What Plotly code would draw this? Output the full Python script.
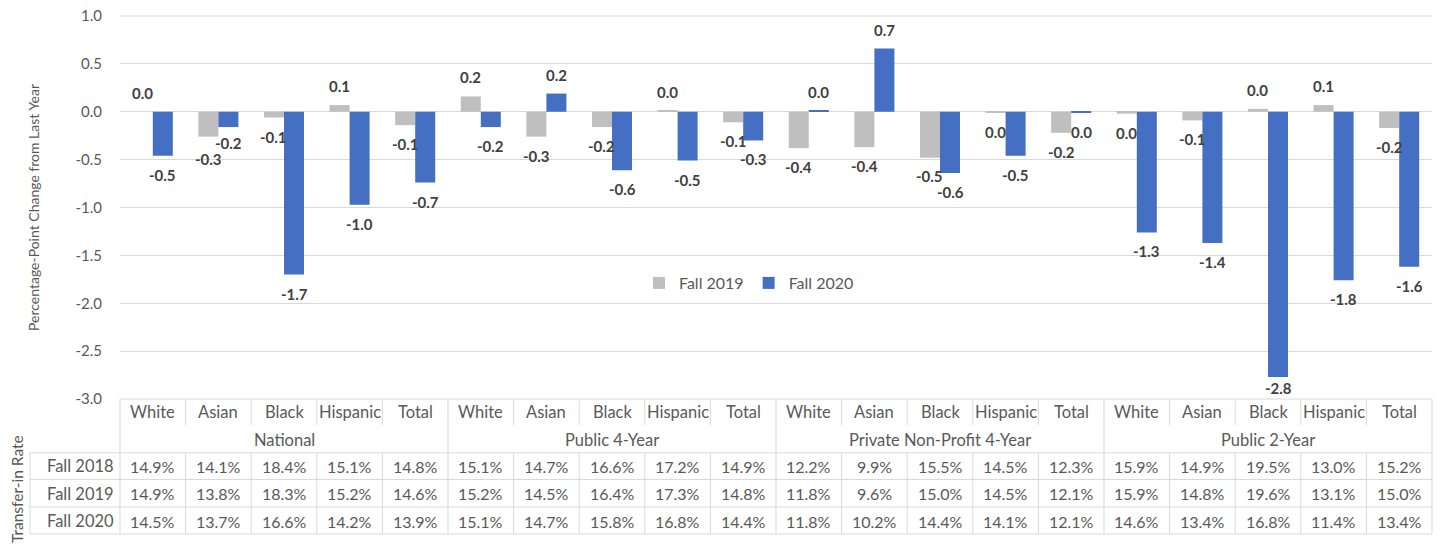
import plotly.graph_objects as go

# ---------------- data ----------------
groups = ["National", "Public 4-Year", "Private Non-Profit 4-Year", "Public 2-Year"]
races = ["White", "Asian", "Black", "Hispanic", "Total"]

# percentage-point change from last year
chg_fall2019 = [0.0, -0.26, -0.06, 0.07, -0.14,
                0.16, -0.26, -0.16, 0.01, -0.11,
                -0.38, -0.37, -0.48, -0.01, -0.22,
                -0.02, -0.09, 0.03, 0.07, -0.17]
chg_fall2020 = [-0.46, -0.16, -1.70, -0.97, -0.74,
                -0.16, 0.19, -0.61, -0.51, -0.30,
                0.01, 0.66, -0.64, -0.46, -0.01,
                -1.26, -1.37, -2.77, -1.76, -1.62]

# transfer-in rates (table)
rate_fall2018 = [14.9, 14.1, 18.4, 15.1, 14.8, 15.1, 14.7, 16.6, 17.2, 14.9,
                 12.2, 9.9, 15.5, 14.5, 12.3, 15.9, 14.9, 19.5, 13.0, 15.2]
rate_fall2019 = [14.9, 13.8, 18.3, 15.2, 14.6, 15.2, 14.5, 16.4, 17.3, 14.8,
                 11.8, 9.6, 15.0, 14.5, 12.1, 15.9, 14.8, 19.6, 13.1, 15.0]
rate_fall2020 = [14.5, 13.7, 16.6, 14.2, 13.9, 15.1, 14.7, 15.8, 16.8, 14.4,
                 11.8, 10.2, 14.4, 14.1, 12.1, 14.6, 13.4, 16.8, 11.4, 13.4]
row_labels = ["Fall 2018", "Fall 2019", "Fall 2020"]

y_tickvals = [1.0, 0.5, 0.0, -0.5, -1.0, -1.5, -2.0, -2.5, -3.0]
y_ticktext = ["1.0", "0.5", "0.0", "-0.5", "-1.0", "-1.5", "-2.0", "-2.5", "-3.0"]

# ---------------- layout constants ----------------
OFF = 8                      # page body margin of the html page
PAGE_W, PAGE_H = 1442, 545
W, H = PAGE_W - OFF, PAGE_H - OFF
PLOT_L, PLOT_R, PLOT_T, PLOT_B = 120, 1432, 16, 399   # page pixels
ML, MT = PLOT_L - OFF, PLOT_T - OFF
MR = W - (PLOT_R - OFF)
MB = H - (PLOT_B - OFF)
PW = PLOT_R - PLOT_L
PH = PLOT_B - PLOT_T
YMIN, YMAX = -3.0, 1.0
GRAY_TXT = "#595959"
LINE = "#d9d9d9"
FONT = "Lato"
BARGAP = 0.39


def py(page_y):
    """page pixel y -> paper y"""
    return (PLOT_B - page_y) / PH


def px_x(page_x):
    return (page_x - PLOT_L) / PW


n = len(groups) * len(races)
idx = list(range(n))
cat_race = [races[i % 5] for i in idx]

fig = go.Figure()
fig.add_bar(x=idx, y=chg_fall2019, name="Fall 2019", marker_color="#bfbfbf",
            marker_line_width=0)
fig.add_bar(x=idx, y=chg_fall2020, name="Fall 2020", marker_color="#456fc2",
            marker_line_width=0)

ann = []
# data labels (outside end, nudged apart when they would collide)
bar_w_px = PW / n * (1 - BARGAP) / 2
px_per_unit = PH / (YMAX - YMIN)
LAB_OFF = 19
MIN_SEP = 16
for i in idx:
    shifts = []
    for v in (chg_fall2019[i], chg_fall2020[i]):
        ys = -LAB_OFF if v < 0 else LAB_OFF
        room = (v - YMIN) * px_per_unit
        if v < 0 and room < 30:
            ys = -(room - 11)
        shifts.append(ys)
    a, b = chg_fall2019[i], chg_fall2020[i]
    if a < 0 and b < 0:
        ca = -a * px_per_unit - shifts[0]
        cb = -b * px_per_unit - shifts[1]
        d = abs(ca - cb)
        if d < MIN_SEP:
            push = (MIN_SEP - d) / 2
            if ca > cb:
                shifts[0] -= push
                shifts[1] += push
            else:
                shifts[0] += push
                shifts[1] -= push
    for v, ys, sh in ((a, shifts[0], -bar_w_px / 2), (b, shifts[1], bar_w_px / 2)):
        t = f"{v:.1f}"
        if t == "-0.0":
            t = "0.0"
        ann.append(dict(x=i, y=v, xref="x", yref="y", text=f"<b>{t}</b>",
                        showarrow=False, xshift=sh, yshift=ys,
                        font=dict(family=FONT, size=15, color="#404040")))

TXT = 16.5
# table header row 1
for i in idx:
    ann.append(dict(x=i, y=py(412), xref="x", yref="paper", text=cat_race[i],
                    showarrow=False, yanchor="middle",
                    font=dict(family=FONT, size=TXT, color=GRAY_TXT)))
# table header row 2 (groups)
for g, name in enumerate(groups):
    ann.append(dict(x=g * 5 + 2, y=py(440), xref="x", yref="paper", text=name,
                    showarrow=False, yanchor="middle",
                    font=dict(family=FONT, size=TXT, color=GRAY_TXT)))
# data rows
row_centers = [466, 493.5, 521]
for r, (lab, vals) in enumerate(zip(row_labels, [rate_fall2018, rate_fall2019, rate_fall2020])):
    ann.append(dict(x=px_x(116), y=py(row_centers[r]), xref="paper", yref="paper",
                    text=lab, showarrow=False, xanchor="right", yanchor="middle",
                    font=dict(family=FONT, size=TXT, color=GRAY_TXT)))
    for i, v in enumerate(vals):
        ann.append(dict(x=i, y=py(row_centers[r]), xref="x", yref="paper",
                        text=f"{v:.1f}%", showarrow=False, yanchor="middle",
                        font=dict(family=FONT, size=16, color=GRAY_TXT)))

# axis titles
ann.append(dict(x=px_x(33), y=py(208), xref="paper", yref="paper", xanchor="center",
                yanchor="middle",
                text="Percentage-Point Change from Last Year", textangle=-90,
                showarrow=False, font=dict(family=FONT, size=14, color=GRAY_TXT)))
ann.append(dict(x=px_x(17), y=py(489), xref="paper", yref="paper", xanchor="center",
                yanchor="middle",
                text="Transfer-in Rate", textangle=-90,
                showarrow=False, font=dict(family=FONT, size=15.5, color=GRAY_TXT)))

# grid lines at the ends of the value range + table lines
shapes = []
lw = dict(color=LINE, width=1)
for yv in (1, 0):
    shapes.append(dict(type="line", xref="paper", yref="paper", x0=0, x1=1,
                       y0=yv, y1=yv, line=lw, layer="below"))
row_lines = [452.7, 479.5, 507, 534]
for yl in row_lines:
    shapes.append(dict(type="line", xref="paper", yref="paper", x0=px_x(30), x1=1,
                       y0=py(yl), y1=py(yl), line=lw))
shapes.append(dict(type="line", xref="paper", yref="paper", x0=0, x1=0,
                   y0=py(399), y1=py(534), line=lw))
shapes.append(dict(type="line", xref="paper", yref="paper", x0=1, x1=1,
                   y0=py(399), y1=py(534), line=lw))
shapes.append(dict(type="line", xref="paper", yref="paper", x0=px_x(30), x1=px_x(30),
                   y0=py(452.7), y1=py(534), line=lw))
for i in range(1, n):
    xb = i - 0.5
    if i % 5 == 0:
        shapes.append(dict(type="line", xref="x", yref="paper", x0=xb, x1=xb,
                           y0=py(399), y1=py(534), line=lw))
    else:
        shapes.append(dict(type="line", xref="x", yref="paper", x0=xb, x1=xb,
                           y0=py(399), y1=py(425), line=lw))
        shapes.append(dict(type="line", xref="x", yref="paper", x0=xb, x1=xb,
                           y0=py(452.7), y1=py(534), line=lw))

fig.update_layout(
    width=W, height=H,
    margin=dict(l=ML, r=MR, t=MT, b=MB, autoexpand=False),
    paper_bgcolor="white", plot_bgcolor="white",
    barmode="group", bargap=BARGAP, bargroupgap=0,
    font=dict(family=FONT, color=GRAY_TXT),
    showlegend=True,
    legend=dict(orientation="h", x=px_x(749), y=py(283), xanchor="center", yanchor="middle",
                font=dict(family=FONT, size=16, color=GRAY_TXT), bgcolor="rgba(0,0,0,0)",
                itemwidth=30, tracegroupgap=0),
    xaxis=dict(range=[-0.5, n - 0.5], showticklabels=False, showgrid=False,
               zeroline=False, showline=False, ticks="", automargin=False),
    yaxis=dict(range=[YMIN, YMAX], tickvals=y_tickvals, ticktext=y_ticktext,
               showgrid=True, gridcolor=LINE, gridwidth=1,
               zeroline=True, zerolinecolor=LINE, zerolinewidth=1,
               showline=False, ticks="", ticklabelstandoff=17, automargin=False,
               ticklabeloverflow="allow",
               tickfont=dict(family=FONT, size=15, color=GRAY_TXT)),
    annotations=ann,
    shapes=shapes,
)

fig.write_html("out.html")
